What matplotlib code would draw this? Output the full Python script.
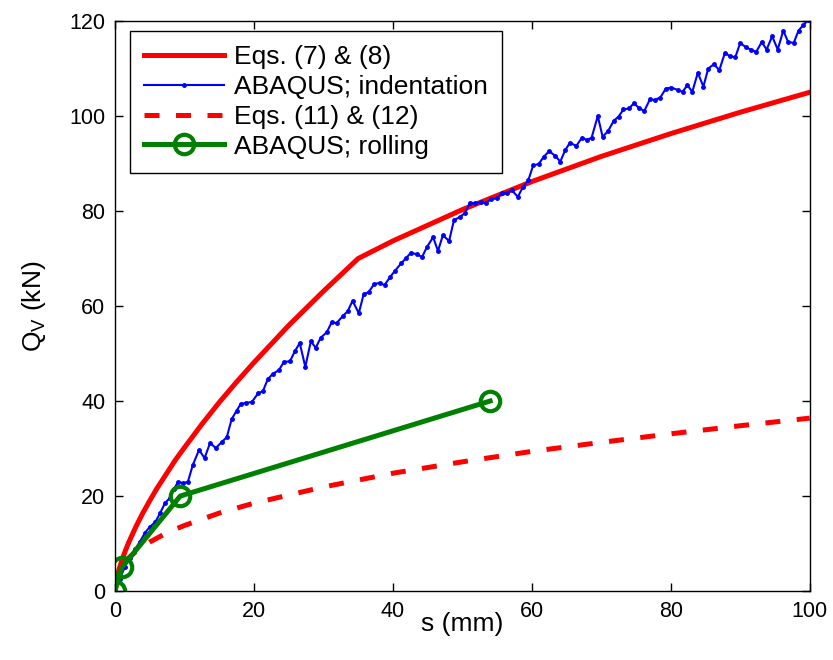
import matplotlib
matplotlib.use("Agg")
import matplotlib.pyplot as plt

plt.rcParams['font.family'] = ['Liberation Sans', 'DejaVu Sans']
plt.rcParams['mathtext.fontset'] = 'custom'
plt.rcParams['mathtext.rm'] = 'Liberation Sans'

# Eqs. (7) & (8): analytical estimate
s_eq78 = [0, 0.1, 0.25, 0.5, 1, 1.5, 2, 3, 4, 5, 6, 7.5, 8.75, 10, 12.5, 15,
          17.5, 20, 25, 30, 35, 40, 50, 60, 70, 80, 90, 100]
q_eq78 = [0, 1.4, 2.6, 4.1, 6.5, 8.5, 10.3, 13.5, 16.4, 19.0, 21.5, 24.9, 27.7,
          30.2, 35.1, 39.7, 44.0, 48.1, 55.9, 63.1, 70.0, 73.7, 80.3, 86.2,
          91.5, 96.3, 100.8, 105.0]

# Eqs. (11) & (12): analytical estimate
s_eq1112 = [0, 0.1, 0.25, 0.5, 1, 2, 3, 5, 7.5, 10, 15, 20, 30, 40, 50, 60,
            70, 80, 90, 100]
q_eq1112 = [0, 2.0, 2.9, 3.9, 5.3, 7.0, 8.3, 10.3, 12.3, 13.8, 16.4, 18.5,
            21.9, 24.8, 27.2, 29.4, 31.3, 33.1, 34.8, 36.4]

# ABAQUS indentation run
s_indent = [0, 0.7, 1.4, 2.1, 2.9, 3.6, 4.3, 5.0, 5.8, 6.5,
            7.2, 7.9, 8.5, 9.1, 9.8, 10.5, 11.2, 12.1, 12.9, 13.7,
            14.5, 15.4, 16.1, 16.8, 17.5, 18.1, 18.8, 19.7, 20.6, 21.3,
            22.0, 22.7, 23.6, 24.3, 25.2, 25.9, 26.6, 27.4, 28.2, 28.9,
            29.6, 30.5, 31.2, 31.9, 32.8, 33.5, 34.2, 35.1, 35.8, 36.5,
            37.3, 38.1, 38.8, 39.6, 40.3, 41.2, 41.9, 42.6, 43.5, 44.2,
            44.9, 45.8, 46.5, 47.2, 48.1, 48.8, 49.6, 50.4, 51.1, 51.8,
            52.7, 53.4, 54.1, 55.0, 55.7, 56.4, 57.1, 58.0, 58.7, 59.5,
            60.2, 61.0, 61.7, 62.5, 63.4, 64.1, 64.8, 65.5, 66.4, 67.2,
            67.9, 68.6, 69.5, 70.2, 71.0, 71.8, 72.5, 73.2, 74.0, 74.7,
            75.5, 76.2, 77.0, 77.7, 78.5, 79.3, 80.1, 81.0, 81.7, 82.4,
            83.1, 83.9, 84.7, 85.4, 86.2, 87.0, 87.8, 88.5, 89.3, 90.0,
            90.8, 91.5, 92.3, 93.1, 93.8, 94.6, 95.4, 96.2, 96.9, 97.7,
            98.4, 99.1, 99.8]
q_indent = [0, 2.5, 5.0, 7.0, 8.8, 10.4, 12.2, 13.5, 14.5, 16.4,
            18.5, 19.6, 21.5, 23.0, 22.7, 23.0, 26.5, 29.7, 28.0, 31.2,
            30.1, 31.4, 32.4, 36.2, 37.9, 39.4, 39.6, 39.8, 41.6, 42.1,
            44.6, 45.7, 46.5, 48.2, 48.4, 50.5, 52.2, 47.2, 52.6, 51.2,
            53.3, 54.5, 56.6, 56.4, 57.9, 58.9, 61.1, 58.5, 62.5, 62.9,
            64.6, 64.9, 64.4, 66.1, 67.4, 69.0, 70.1, 71.2, 70.9, 70.3,
            72.4, 74.5, 71.6, 74.9, 73.7, 78.1, 78.7, 79.6, 81.7, 81.7,
            81.8, 81.7, 82.5, 82.7, 83.8, 83.8, 84.4, 83.0, 85.0, 86.5,
            89.6, 89.9, 91.4, 92.6, 91.6, 90.4, 92.8, 94.4, 93.7, 95.4,
            95.0, 95.4, 100.0, 95.6, 96.9, 99.0, 99.9, 101.4, 101.6, 102.7,
            101.6, 101.1, 103.5, 103.4, 103.9, 105.8, 106.0, 105.5, 105.1, 106.5,
            105.1, 109.1, 106.2, 110.0, 110.9, 109.7, 113.3, 112.6, 112.4, 115.4,
            114.5, 114.0, 113.5, 115.6, 114.0, 116.8, 114.0, 118.0, 115.6, 115.4,
            118.0, 119.2, 120.2]

# ABAQUS rolling run
s_roll = [0, 1.0, 9.4, 54.0]
q_roll = [0, 5.0, 20.0, 40.0]

fig = plt.figure(figsize=(8.33, 6.6), dpi=100)
ax = fig.add_axes([0.138, 0.1045, 0.834, 0.8636])

ax.plot(s_eq78, q_eq78, color='red', lw=3.6, label='Eqs. (7) & (8)')
ax.plot(s_indent, q_indent, color='blue', lw=1.5, marker='.', ms=5,
        label='ABAQUS; indentation')
ax.plot(s_eq1112, q_eq1112, color='red', lw=3.6, dashes=(3.0, 3.3),
        label='Eqs. (11) & (12)')
ax.plot(s_roll, q_roll, color='green', lw=3.6, marker='o', ms=14,
        mfc='none', mew=3, label='ABAQUS; rolling')

ax.set_xlim(0, 100)
ax.set_ylim(0, 120)
ax.set_xticks(range(0, 101, 20))
ax.set_yticks(range(0, 121, 20))
ax.tick_params(direction='in', length=6, width=1, top=True, right=True,
               labelsize=15.5, pad=7)
for sp in ax.spines.values():
    sp.set_linewidth(1)

ax.set_xlabel('s (mm)', fontsize=19, labelpad=-7)
ax.set_ylabel(r'Q$_\mathregular{V}$ (kN)', fontsize=19, labelpad=15)

leg = ax.legend(loc='upper left', bbox_to_anchor=(0.021, 0.983), fontsize=19,
                handlelength=3.03, handletextpad=0.38, labelspacing=0.22,
                borderpad=0.55, borderaxespad=0, fancybox=False, framealpha=1)
leg.get_frame().set_edgecolor('black')
leg.get_frame().set_linewidth(1)

fig.savefig('out.png', dpi=100)
